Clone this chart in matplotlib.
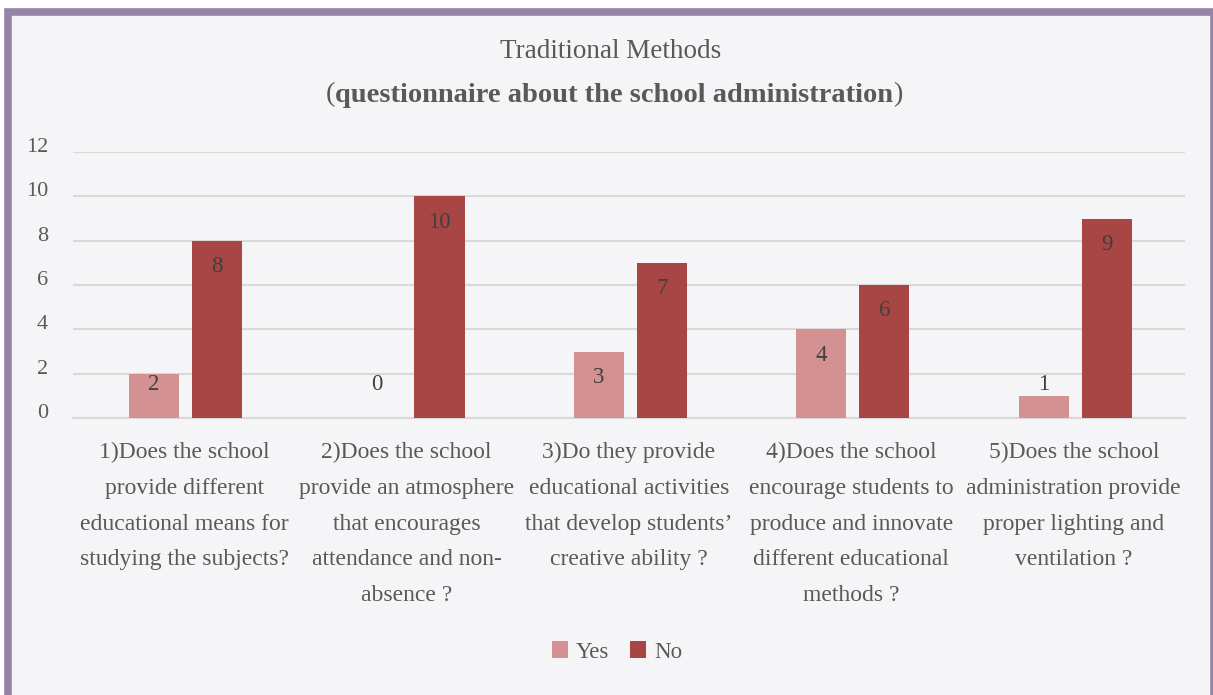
import matplotlib.pyplot as plt
import matplotlib.patches as mpatches
import numpy as np

categories = ["1)Does the school\nprovide different\neducational means for\nstudying the subjects?",
              "2)Does the school\nprovide an atmosphere\nthat encourages\nattendance and non-\nabsence ?",
              "3)Do they provide\neducational activities\nthat develop students\u2019\ncreative ability ?",
              "4)Does the school\nencourage students to\nproduce and innovate\ndifferent educational\nmethods ?",
              "5)Does the school\nadministration provide\nproper lighting and\nventilation ?"]
yes = [2, 0, 3, 4, 1]
no = [8, 10, 7, 6, 9]

yes_color = "#d39191"
no_color = "#a84545"
text_color = "#404040"
grey_text = "#595959"

plt.rcParams['font.family'] = ['Liberation Serif', 'DejaVu Serif']

fig = plt.figure(figsize=(12.13, 6.95), dpi=100)
fig.patch.set_facecolor("white")

# outer frame
W, H = 1213, 695
frame = mpatches.Rectangle((8 / W, -0.05), (1214 - 8) / W, 1 + 0.05 - 11.5 / H,
                           transform=fig.transFigure, facecolor="#f5f5f7",
                           edgecolor="#9583a8", linewidth=5.5, zorder=-5)
fig.patches.append(frame)

ax = fig.add_axes([73 / W, 1 - 418 / H, (1185 - 73) / W, (418 - 152) / H])
ax.set_facecolor("none")
ax.set_zorder(2)

x = np.arange(len(categories))
bw = 0.225
b1 = ax.bar(x - 0.135, yes, bw, color=yes_color, zorder=3, label="Yes")
b2 = ax.bar(x + 0.148, no, bw, color=no_color, zorder=3, label="No")

# data labels inside end
for bars, vals in [(b1, yes), (b2, no)]:
    for rect, v in zip(bars, vals):
        ypos = max(v - 1.17, 1.49)
        ax.text(rect.get_x() + rect.get_width() / 2, ypos, str(v),
                ha="center", va="center", fontsize=16.5, color=text_color, zorder=4)

ax.set_xlim(-0.5, len(categories) - 0.5)
ax.set_ylim(0, 12)
ax.set_yticks(range(0, 13, 2))
ax.yaxis.grid(True, color="#d9d9d9", linewidth=1.5, zorder=0)
ax.set_axisbelow(True)
for s in ["top", "right", "left"]:
    ax.spines[s].set_visible(False)
ax.spines["bottom"].set_color("#d9d9d9")
ax.spines["bottom"].set_linewidth(1.5)
ax.tick_params(axis="y", length=0, labelsize=16, labelcolor=grey_text, pad=18)
for lab in ax.get_yticklabels():
    lab.set_va("baseline")
ax.tick_params(axis="x", length=0, pad=17)
ax.set_xticks(x)
ax.set_xticklabels(categories, fontsize=17, color=grey_text, linespacing=1.93,
                   va="top")

# title
fig.text(611 / W, 1 - 51 / H, "Traditional Methods", ha="center", va="center",
         fontsize=19.5, color=grey_text)
mid = fig.text(614 / W, 1 - 95 / H, "questionnaire about the school administration",
               ha="center", va="center", fontsize=20.5, fontweight="bold", color=grey_text)
r = fig.canvas.get_renderer()
bb = mid.get_window_extent(r).transformed(fig.transFigure.inverted())
fig.text(bb.x0, 1 - 95 / H, "(", ha="right", va="center", fontsize=20.5, color=grey_text)
fig.text(bb.x1, 1 - 95 / H, ")", ha="left", va="center", fontsize=20.5, color=grey_text)

fig.legend(handles=[b1, b2], labels=["Yes", "No"], loc="center",
           bbox_to_anchor=(617 / W, 1 - 652 / H), ncol=2, frameon=False,
           fontsize=16.5, handlelength=0.7, handleheight=0.7, handletextpad=0.35,
           columnspacing=0.9, labelcolor=grey_text)

fig.savefig("out.png", dpi=100, facecolor=fig.get_facecolor())
